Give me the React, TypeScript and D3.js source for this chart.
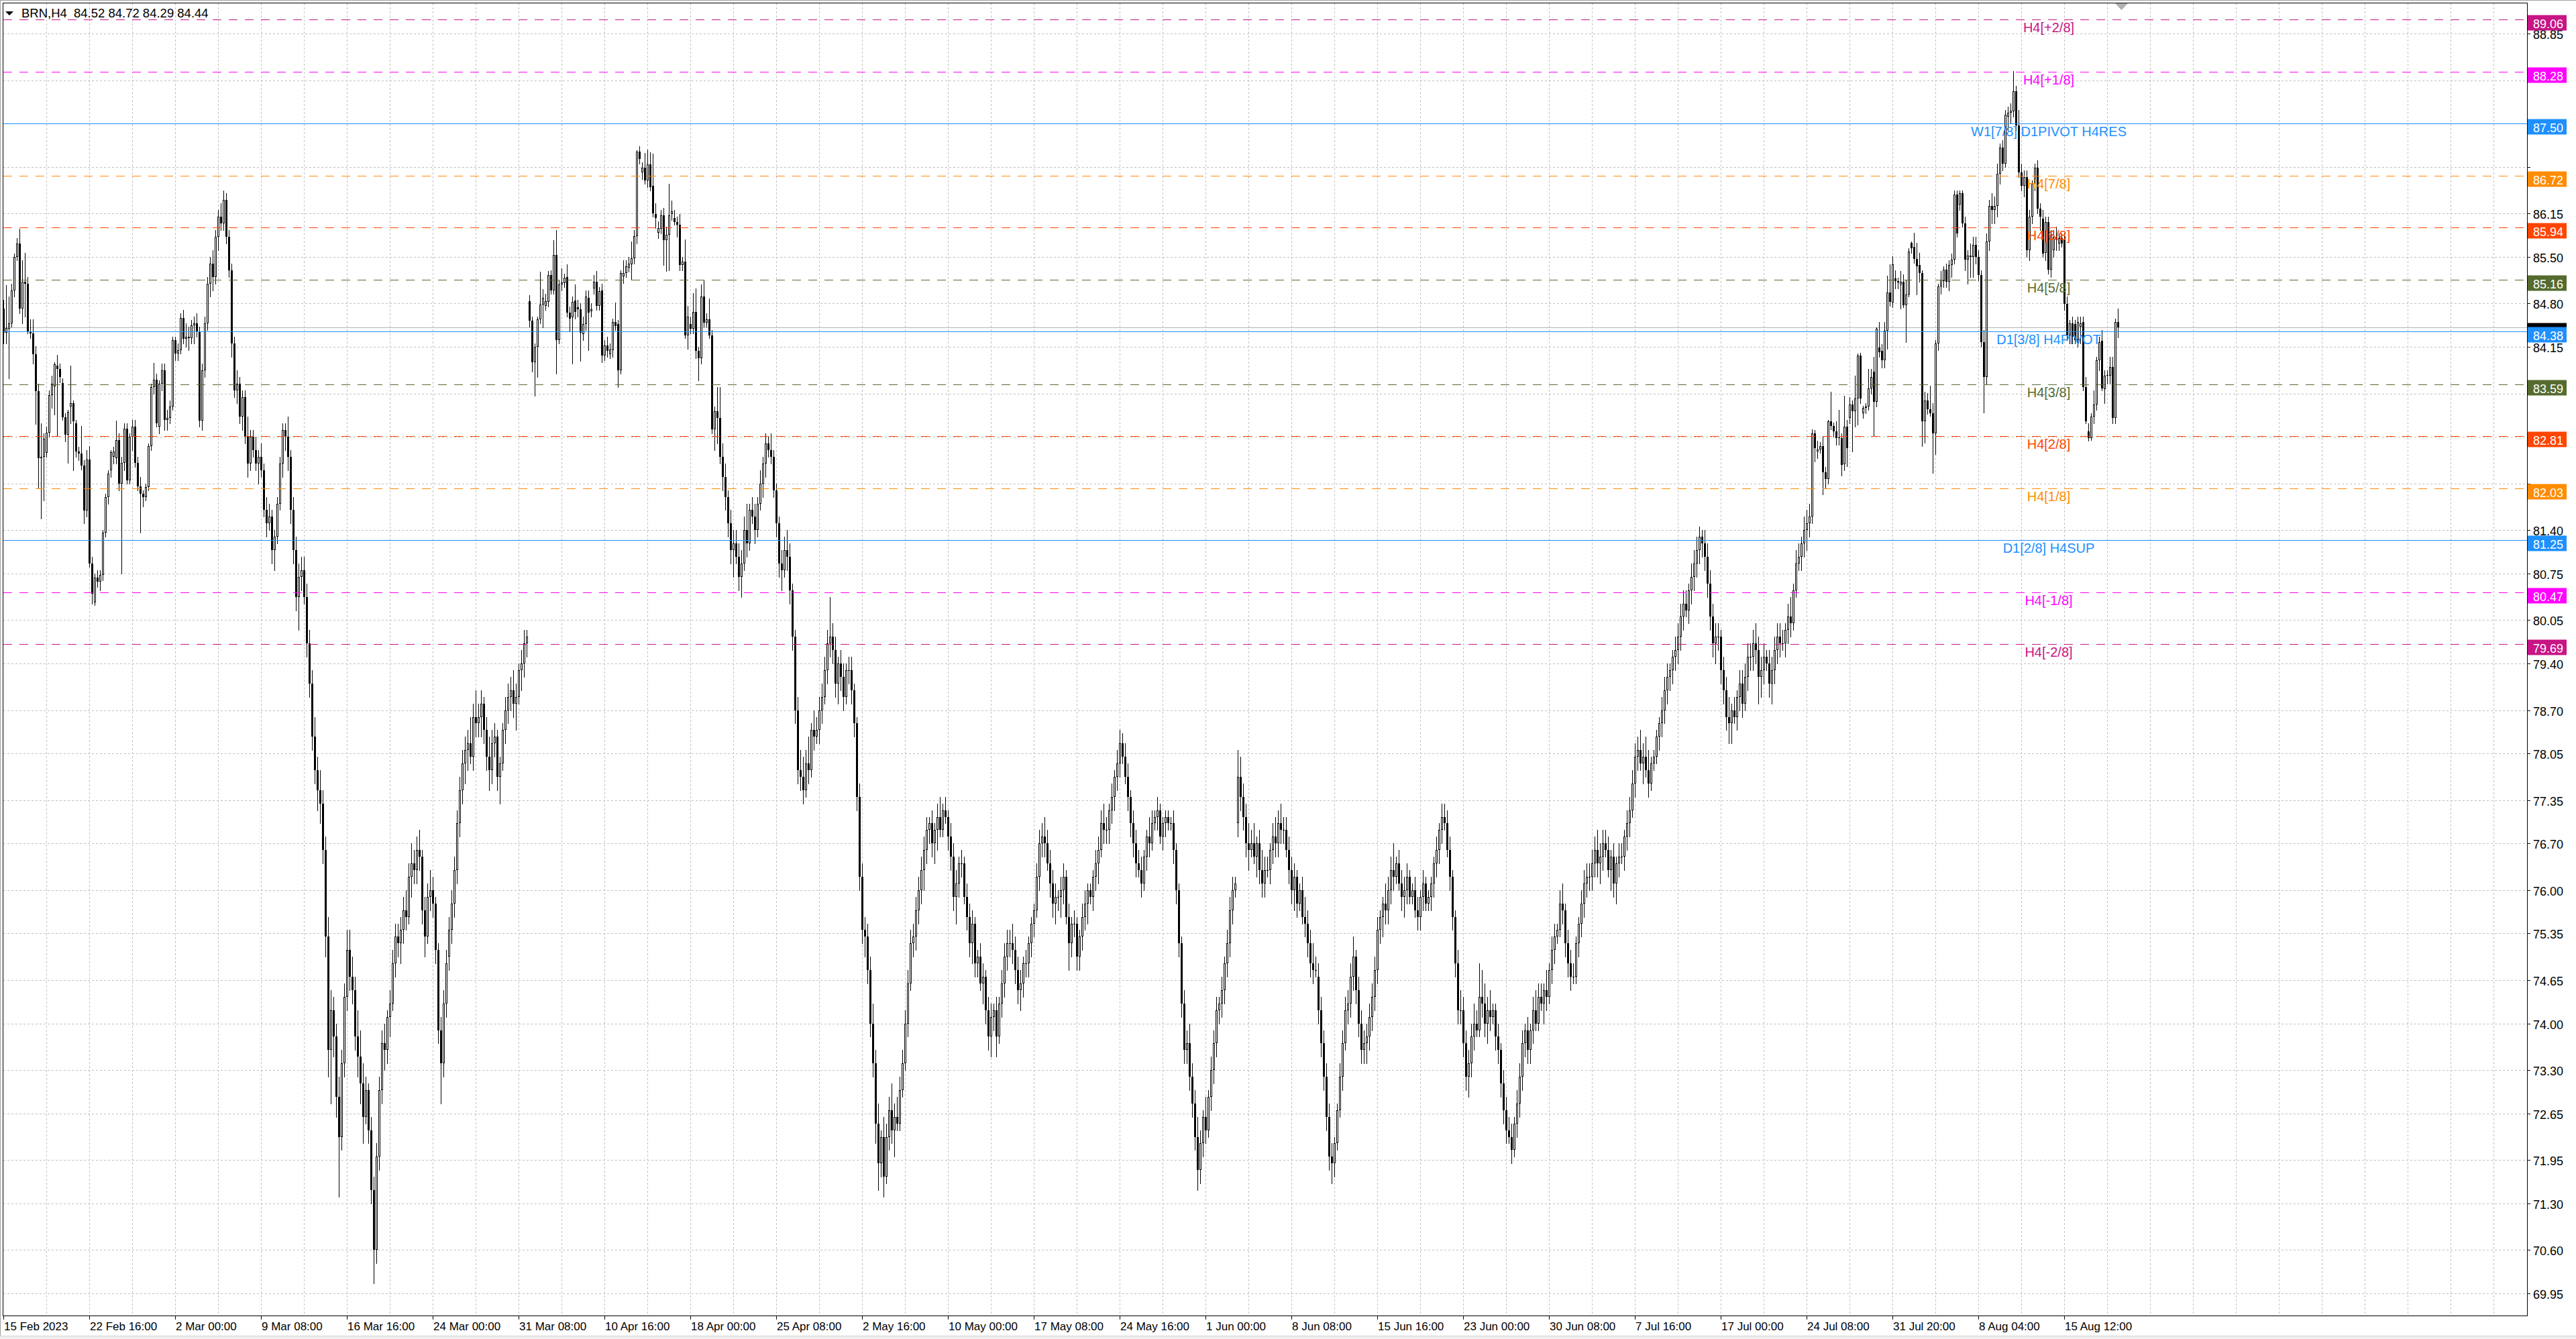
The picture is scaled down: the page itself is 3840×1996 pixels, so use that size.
import React from "react";
import * as d3 from "d3";

// ---------- DATA (BRN, H4) : [open, high, low, close] per bar ----------
const feb: number[][] = [
  [84.72, 84.85, 84.2, 84.36], [84.36, 85.08, 84.2, 84.43], [84.42, 84.91, 83.68, 84.5], [84.5, 85.1, 84.45, 85.0],
  [85.0, 85.55, 84.9, 85.5], [85.5, 85.78, 85.45, 85.7], [85.7, 85.92, 84.65, 84.72], [84.72, 85.45, 84.5, 85.13], [85.13, 85.56, 84.6, 85.1], [85.1, 85.2, 84.35, 84.38],
  [84.38, 84.56, 84.28, 84.35], [84.35, 84.56, 83.9, 84.04], [84.04, 84.16, 82.99, 83.49], [83.49, 83.6, 82.04, 82.48], [82.48, 83.0, 81.57, 82.5], [82.5, 82.85, 81.85, 82.77],
  [82.56, 82.95, 82.5, 82.86], [82.86, 83.5, 82.8, 83.43], [83.43, 83.72, 83.23, 83.6], [83.56, 83.92, 83.13, 83.89], [83.87, 84.03, 82.82, 83.82], [83.82, 83.9, 83.62, 83.7],
  [83.61, 83.68, 83.05, 83.09], [83.09, 83.15, 82.73, 82.83], [82.83, 83.2, 82.41, 83.17], [83.25, 83.87, 83.0, 83.3], [83.3, 83.35, 82.3, 83.03], [83.0, 83.05, 82.5, 82.58],
  [82.58, 82.65, 82.45, 82.55], [82.55, 82.96, 82.31, 82.37], [82.37, 82.45, 81.5, 81.69], [81.69, 82.6, 81.6, 82.46], [82.46, 82.66, 80.85, 80.9], [80.9, 81.0, 80.3, 80.45],
  [80.32, 80.75, 80.28, 80.69], [80.69, 80.8, 80.55, 80.63], [80.63, 80.8, 80.5, 80.73], [80.73, 81.4, 80.65, 81.36], [81.36, 81.95, 81.3, 81.9], [81.9, 82.3, 81.8, 82.25],
  [82.3, 82.6, 82.2, 82.57], [82.5, 82.65, 82.4, 82.58], [82.48, 83.04, 82.4, 82.75], [82.75, 82.85, 82.0, 82.1], [82.1, 82.5, 80.75, 82.41], [82.41, 83.0, 82.3, 82.92],
  [82.92, 83.0, 82.1, 82.15], [82.15, 82.85, 82.1, 82.8], [82.8, 83.05, 82.6, 82.95], [82.95, 83.05, 82.35, 82.41], [82.41, 82.5, 82.0, 82.06], [82.06, 82.2, 81.36, 81.95],
  [81.95, 82.0, 81.75, 81.9], [81.9, 82.1, 81.85, 82.05], [82.05, 82.7, 82.0, 82.66], [82.66, 83.6, 82.6, 83.55], [83.55, 83.91, 83.45, 83.66], [83.66, 83.75, 82.95, 83.0],
];

const mar: number[][] = [
  [82.95, 83.65, 82.85, 83.6], [83.6, 83.9, 83.5, 83.8], [83.8, 83.9, 82.9, 83.05], [83.05, 83.2, 82.9, 83.08], [83.08, 83.35, 83.0, 83.25], [83.25, 84.3, 83.2, 84.25],
  [84.25, 84.3, 83.95, 84.05], [84.05, 84.2, 83.95, 84.1], [84.1, 84.65, 84.05, 84.58], [84.58, 84.7, 84.2, 84.27], [84.27, 84.5, 84.15, 84.3], [84.3, 84.45, 84.1, 84.28],
  [84.28, 84.55, 84.2, 84.47], [84.47, 84.6, 84.2, 84.5], [84.5, 84.65, 84.3, 84.38], [84.38, 84.45, 82.95, 83.04], [83.04, 83.9, 82.9, 83.8], [83.8, 84.6, 83.7, 84.5],
  [84.5, 85.2, 84.4, 85.1], [85.1, 85.5, 84.9, 85.4], [85.4, 85.6, 85.0, 85.2], [85.2, 85.9, 85.1, 85.8], [85.8, 86.2, 85.6, 86.1], [86.1, 86.3, 85.9, 86.0],
  [86.0, 86.5, 85.9, 86.35], [86.35, 86.45, 85.7, 85.8], [85.8, 85.9, 85.2, 85.3], [85.3, 85.4, 84.0, 84.2], [84.2, 84.3, 83.4, 83.5], [83.5, 83.8, 83.3, 83.6],
  [83.6, 83.7, 83.0, 83.1], [83.1, 83.5, 82.9, 83.4], [83.4, 83.5, 82.7, 82.8], [82.8, 83.1, 82.2, 82.4], [82.4, 82.9, 82.3, 82.8], [82.8, 82.9, 82.5, 82.6],
  [82.6, 82.8, 82.3, 82.4], [82.4, 82.6, 82.1, 82.5], [82.5, 82.7, 82.2, 82.3], [82.3, 82.4, 81.6, 81.7], [81.7, 81.9, 81.3, 81.5], [81.5, 81.8, 81.4, 81.6],
  [81.6, 81.7, 80.9, 81.1], [81.1, 81.4, 80.8, 81.3], [81.3, 81.9, 81.2, 81.8], [81.8, 82.5, 81.7, 82.4], [82.4, 83.0, 82.2, 82.9], [82.9, 83.0, 82.6, 82.8],
  [82.8, 83.1, 82.3, 82.5], [82.5, 82.6, 81.5, 81.7], [81.7, 81.9, 80.9, 81.1], [81.1, 81.3, 80.2, 80.4], [80.4, 80.9, 79.9, 80.7], [80.7, 81.0, 80.5, 80.8],
  [80.8, 81.0, 80.3, 80.4], [80.4, 80.6, 79.5, 79.7], [79.7, 79.9, 78.9, 79.1], [79.1, 79.3, 78.1, 78.3], [78.3, 78.6, 77.6, 77.8], [77.8, 78.0, 77.2, 77.5],
  [77.5, 77.8, 77.0, 77.3], [77.3, 77.5, 76.4, 76.6], [76.6, 76.8, 75.0, 75.3], [75.3, 75.6, 73.2, 73.6], [73.6, 74.5, 72.8, 74.2], [74.2, 74.4, 73.5, 73.8],
  [73.8, 74.0, 72.6, 72.9], [72.9, 73.2, 71.4, 72.3], [72.3, 73.6, 72.1, 73.4], [73.4, 74.6, 73.2, 74.4], [74.4, 75.4, 74.2, 75.1], [75.1, 75.4, 74.5, 74.7],
  [74.7, 75.0, 74.3, 74.5], [74.5, 74.7, 73.6, 73.8], [73.8, 74.2, 73.2, 73.5], [73.5, 73.9, 72.8, 73.1], [73.1, 73.4, 72.2, 72.6], [72.6, 73.2, 72.5, 73.0],
  [73.0, 73.1, 72.2, 72.4], [72.4, 72.6, 71.3, 71.5], [71.5, 71.7, 70.1, 70.6], [70.6, 72.2, 70.4, 72.0], [72.0, 73.2, 71.8, 73.0], [73.0, 73.9, 72.8, 73.7],
  [73.7, 74.0, 73.3, 73.6], [73.6, 74.2, 73.4, 74.1], [74.1, 74.5, 73.8, 74.3], [74.3, 75.1, 74.2, 74.9], [74.9, 75.5, 74.7, 75.3], [75.3, 75.5, 75.0, 75.2],
  [75.2, 75.6, 74.9, 75.4], [75.4, 75.9, 75.2, 75.7], [75.7, 76.0, 75.4, 75.6], [75.6, 76.4, 75.5, 76.2], [76.2, 76.7, 75.9, 76.4], [76.4, 76.6, 76.1, 76.3],
  [76.3, 76.8, 76.1, 76.6], [76.6, 76.9, 76.3, 76.5], [76.5, 76.6, 75.5, 75.7], [75.7, 75.9, 75.0, 75.3], [75.3, 76.1, 75.2, 75.9], [75.9, 76.3, 75.7, 76.0],
  [76.0, 76.2, 75.6, 75.8], [75.8, 75.9, 74.9, 75.1], [75.1, 75.2, 73.7, 73.9], [73.9, 74.1, 72.8, 73.4], [73.4, 74.5, 73.2, 74.3], [74.3, 75.1, 74.1, 74.9],
  [75.0, 75.6, 74.8, 75.4], [75.4, 76.0, 75.2, 75.8], [75.8, 76.5, 75.6, 76.3], [76.3, 77.2, 76.1, 77.0], [77.0, 77.7, 76.8, 77.5], [77.5, 78.1, 77.3, 77.9],
  [77.9, 78.3, 77.6, 78.1], [78.1, 78.4, 77.8, 78.2], [78.2, 78.6, 77.9, 78.0], [78.0, 78.8, 77.8, 78.6], [78.6, 79.0, 78.3, 78.5], [78.5, 78.8, 78.3, 78.6],
  [78.6, 79.0, 78.3, 78.8], [78.8, 78.9, 78.2, 78.4], [78.4, 78.6, 77.8, 78.0], [78.0, 78.3, 77.5, 77.8], [77.8, 78.4, 77.6, 78.2], [78.2, 78.5, 78.0, 78.3],
  [78.3, 78.4, 77.5, 77.7], [77.7, 78.0, 77.3, 77.9], [77.9, 78.5, 77.8, 78.4], [78.4, 78.9, 78.2, 78.7], [78.7, 79.1, 78.5, 78.9], [78.9, 79.2, 78.7, 79.0],
  [79.0, 79.3, 78.6, 78.8], [78.8, 79.1, 78.4, 78.9], [78.9, 79.4, 78.8, 79.3], [79.3, 79.6, 79.0, 79.4], [79.4, 79.9, 79.2, 79.7], [79.7, 79.9, 79.5, 79.8],
];

const apr: number[][] = [
  [84.83, 84.93, 84.45, 84.54], [84.54, 84.6, 83.78, 83.92], [83.92, 84.2, 83.42, 84.15], [84.15, 84.6, 83.7, 84.56], [84.56, 85.28, 84.5, 84.78], [84.78, 85.02, 84.44, 84.88],
  [84.76, 84.95, 84.7, 84.83], [84.82, 85.29, 84.75, 85.23], [85.23, 85.3, 84.95, 85.0], [85.0, 85.75, 84.95, 85.53], [85.53, 85.9, 83.75, 84.25], [84.25, 85.15, 84.2, 85.09],
  [85.09, 85.33, 85.0, 85.12], [85.11, 85.25, 85.05, 85.19], [85.2, 85.39, 84.6, 84.66], [84.66, 84.75, 84.39, 84.57], [84.59, 84.9, 83.9, 84.82], [84.84, 85.09, 84.57, 84.67],
  [84.74, 84.85, 84.6, 84.71], [84.71, 84.8, 83.94, 84.36], [84.34, 84.6, 84.25, 84.49], [84.49, 85.0, 84.4, 84.9], [84.88, 85.0, 84.1, 84.66], [84.68, 84.8, 84.6, 84.71],
  [85.03, 85.23, 84.95, 85.13], [85.13, 85.29, 84.7, 84.76], [84.76, 85.05, 84.7, 84.99], [85.0, 85.1, 83.92, 84.02], [84.02, 84.25, 83.95, 84.17], [84.17, 84.3, 84.0, 84.09],
  [84.04, 84.2, 83.98, 84.11], [84.1, 84.57, 84.0, 84.52], [84.52, 84.81, 84.4, 84.46], [84.49, 84.55, 83.55, 83.8], [83.8, 85.3, 83.75, 85.26], [85.21, 85.45, 85.11, 85.26],
  [85.26, 85.45, 85.2, 85.36], [85.34, 85.5, 85.28, 85.4], [85.39, 85.73, 85.16, 85.48], [85.48, 85.9, 85.4, 85.81], [85.81, 87.1, 85.7, 87.08], [87.08, 87.16, 86.9, 86.97],
  [86.77, 86.92, 86.67, 86.84], [86.84, 87.06, 86.6, 86.65], [86.65, 87.11, 86.55, 86.89], [86.89, 87.07, 86.5, 86.55], [86.57, 87.05, 86.1, 86.15], [86.14, 86.3, 85.93, 86.08],
  [85.86, 86.03, 85.78, 85.93], [85.92, 86.2, 85.85, 86.12], [86.12, 86.23, 85.38, 85.75], [85.75, 85.95, 85.29, 85.83], [85.83, 86.6, 85.3, 86.12], [86.14, 86.34, 86.05, 86.18],
  [86.08, 86.2, 85.98, 86.02], [86.02, 86.1, 85.8, 85.98], [85.98, 86.14, 85.3, 85.38], [85.38, 85.5, 85.3, 85.43], [85.43, 85.76, 84.28, 84.32], [84.32, 84.76, 84.12, 84.6],
  [84.49, 84.6, 84.35, 84.42], [84.42, 84.96, 84.35, 84.67], [84.67, 85.03, 83.98, 84.09], [84.09, 84.15, 83.65, 83.98], [83.98, 85.09, 83.9, 84.9], [84.9, 85.16, 84.45, 84.51],
  [84.51, 84.65, 84.45, 84.56], [84.56, 84.87, 84.28, 84.32], [84.32, 84.4, 82.85, 82.91], [82.91, 83.25, 82.6, 83.18], [83.18, 83.55, 82.7, 83.08], [83.08, 83.55, 82.4, 82.5],
  [82.5, 82.7, 82.0, 82.2], [82.2, 82.4, 81.7, 81.9], [81.9, 82.0, 81.3, 81.5], [81.5, 81.7, 80.9, 81.1], [81.1, 81.4, 80.7, 81.2], [81.2, 81.4, 80.9, 81.0],
  [81.0, 81.2, 80.5, 80.7], [80.7, 81.1, 80.4, 80.9], [80.9, 81.6, 80.8, 81.4], [81.4, 81.8, 81.0, 81.2], [81.2, 81.8, 81.1, 81.7], [81.7, 81.9, 81.5, 81.6],
  [81.6, 81.8, 81.2, 81.4], [81.4, 81.9, 81.3, 81.8], [81.8, 82.3, 81.7, 82.1], [82.1, 82.5, 81.9, 82.4], [82.4, 82.85, 82.2, 82.7], [82.7, 82.8, 82.5, 82.6],
  [82.6, 82.85, 82.4, 82.5], [82.5, 82.6, 81.9, 82.0], [82.0, 82.1, 81.3, 81.5], [81.5, 81.6, 80.7, 80.9], [80.9, 81.1, 80.5, 80.8], [80.8, 81.3, 80.7, 81.1],
  [81.1, 81.4, 80.8, 81.0], [81.0, 81.2, 80.3, 80.5], [80.5, 80.6, 79.6, 79.8], [79.8, 79.9, 78.5, 78.7], [78.7, 78.9, 77.6, 77.8], [77.8, 78.1, 77.5, 77.7],
  [77.7, 78.0, 77.3, 77.5], [77.5, 78.1, 77.4, 77.9], [77.9, 78.3, 77.6, 77.8], [77.8, 78.5, 77.7, 78.4], [78.4, 78.7, 78.1, 78.3], [78.3, 78.6, 78.2, 78.4],
  [78.4, 78.9, 78.2, 78.7], [78.7, 79.1, 78.5, 78.9], [78.9, 79.5, 78.8, 79.3], [79.3, 79.9, 79.1, 79.7], [79.7, 80.4, 79.5, 79.8], [79.8, 80.0, 79.4, 79.6],
];

const may: number[][] = [
  [79.6, 79.8, 78.9, 79.1], [79.1, 79.5, 78.8, 79.4], [79.4, 79.6, 79.0, 79.2], [79.2, 79.4, 78.7, 78.9], [78.9, 79.4, 78.8, 79.3], [79.3, 79.5, 79.1, 79.3],
  [79.3, 79.5, 78.8, 79.0], [79.0, 79.1, 78.3, 78.5], [78.5, 78.6, 77.2, 77.4], [77.4, 77.6, 76.0, 76.2], [76.2, 76.4, 75.2, 75.4], [75.4, 75.6, 75.0, 75.3],
  [75.3, 75.5, 74.6, 74.8], [74.8, 75.0, 73.8, 74.0], [74.0, 74.3, 73.2, 73.4], [73.4, 73.6, 72.2, 72.5], [72.5, 72.8, 71.5, 71.9], [71.9, 72.4, 71.7, 72.3],
  [72.3, 72.6, 71.4, 71.7], [71.7, 72.5, 71.6, 72.3], [72.3, 72.9, 72.1, 72.7], [72.7, 73.1, 72.2, 72.4], [72.4, 72.8, 72.0, 72.6], [72.6, 72.9, 72.4, 72.5],
  [72.5, 73.2, 72.4, 73.0], [73.0, 73.6, 72.9, 73.4], [73.4, 74.2, 73.3, 74.0], [74.0, 74.8, 73.8, 74.6], [74.6, 75.4, 74.5, 75.2], [75.2, 75.5, 75.0, 75.3],
  [75.3, 75.9, 75.1, 75.7], [75.7, 76.2, 75.5, 76.0], [76.0, 76.5, 75.8, 76.3], [76.3, 76.8, 76.0, 76.6], [76.6, 77.1, 76.4, 76.9], [76.9, 77.1, 76.7, 77.0],
  [77.0, 77.2, 76.5, 76.7], [76.7, 77.0, 76.4, 76.9], [76.9, 77.3, 76.6, 77.1], [77.1, 77.4, 76.8, 76.9], [76.9, 77.3, 76.8, 77.2], [77.2, 77.4, 77.0, 77.1],
  [77.1, 77.2, 76.6, 76.8], [76.8, 77.0, 76.3, 76.5], [76.5, 76.7, 75.7, 75.9], [75.9, 76.3, 75.5, 76.1], [76.1, 76.5, 75.9, 76.4], [76.4, 76.6, 76.2, 76.4],
  [76.4, 76.5, 75.8, 75.9], [75.9, 76.1, 75.4, 75.6], [75.6, 75.8, 75.0, 75.2], [75.2, 75.7, 74.9, 75.5], [75.5, 75.6, 74.7, 74.9], [74.9, 75.1, 74.7, 75.0],
  [75.0, 75.2, 74.5, 74.6], [74.6, 74.9, 74.3, 74.7], [74.7, 74.8, 74.0, 74.2], [74.2, 74.4, 73.6, 73.8], [73.8, 74.3, 73.5, 74.1], [74.1, 74.3, 73.9, 74.2],
  [74.2, 74.4, 73.5, 73.8], [73.8, 74.4, 73.7, 74.3], [74.3, 74.8, 74.1, 74.6], [74.6, 75.2, 74.4, 75.0], [75.0, 75.4, 74.8, 75.2], [75.2, 75.4, 75.0, 75.2],
  [75.2, 75.5, 74.9, 75.1], [75.1, 75.3, 74.6, 74.8], [74.8, 75.0, 74.3, 74.5], [74.5, 74.8, 74.2, 74.6], [74.6, 75.0, 74.4, 74.9], [74.9, 75.1, 74.7, 74.9],
  [74.9, 75.3, 74.7, 75.2], [75.2, 75.6, 75.0, 75.5], [75.5, 75.8, 75.3, 75.7], [75.7, 76.4, 75.6, 76.2], [76.2, 76.9, 76.0, 76.7], [76.7, 77.0, 76.5, 76.8],
  [76.8, 77.1, 76.5, 76.7], [76.7, 76.9, 76.3, 76.4], [76.4, 76.6, 75.9, 76.1], [76.1, 76.3, 75.6, 75.8], [75.8, 76.1, 75.5, 75.9], [75.9, 76.0, 75.7, 75.9],
  [75.9, 76.2, 75.6, 76.0], [76.0, 76.4, 75.8, 76.2], [76.2, 76.3, 75.5, 75.6], [75.6, 75.8, 74.8, 75.2], [75.2, 75.6, 75.0, 75.5], [75.5, 75.7, 75.3, 75.5],
  [75.5, 75.6, 74.8, 75.0], [75.0, 75.4, 74.8, 75.3], [75.3, 75.8, 75.1, 75.6], [75.6, 76.0, 75.4, 75.8], [75.8, 76.1, 75.5, 76.0], [76.0, 76.1, 75.8, 75.9],
  [75.9, 76.3, 75.7, 76.2], [76.2, 76.6, 76.0, 76.4], [76.4, 76.8, 76.1, 76.6], [76.6, 77.2, 76.5, 77.0], [77.0, 77.3, 76.7, 76.9], [76.9, 77.1, 76.7, 76.9],
  [76.9, 77.3, 76.7, 77.2], [77.2, 77.6, 77.0, 77.4], [77.4, 77.8, 77.2, 77.7], [77.7, 78.1, 77.5, 77.9], [77.9, 78.4, 77.7, 78.2], [78.2, 78.35, 77.9, 78.0],
  [78.0, 78.2, 77.6, 77.7], [77.7, 77.9, 77.2, 77.4], [77.4, 77.5, 76.8, 77.0], [77.0, 77.2, 76.5, 76.7], [76.7, 76.9, 76.2, 76.4], [76.4, 76.6, 76.2, 76.3],
  [76.3, 76.5, 75.9, 76.1], [76.1, 76.6, 76.0, 76.5], [76.5, 76.9, 76.3, 76.8], [76.8, 77.1, 76.5, 76.7], [76.7, 77.2, 76.6, 77.0], [77.0, 77.2, 76.9, 77.1],
  [77.1, 77.4, 76.9, 77.2], [77.2, 77.3, 76.7, 76.8], [76.8, 77.1, 76.6, 77.0], [77.0, 77.2, 76.8, 77.1], [77.1, 77.2, 76.9, 77.0], [77.0, 77.1, 76.9, 77.0],
  [77.0, 77.2, 76.4, 76.6], [76.6, 76.7, 75.8, 76.0], [76.0, 76.1, 75.0, 75.2], [75.2, 75.3, 74.1, 74.3], [74.3, 74.5, 73.4, 73.6], [73.6, 73.9, 73.4, 73.7],
  [73.7, 74.0, 73.0, 73.2], [73.2, 73.4, 72.6, 72.8], [72.8, 73.0, 72.1, 72.3], [72.3, 72.6, 71.5, 71.8], [71.8, 72.4, 71.6, 72.2], [72.2, 72.7, 72.0, 72.6],
];

const jun: number[][] = [
  [72.6, 72.9, 72.2, 72.4], [72.4, 73.0, 72.3, 72.9], [72.9, 73.5, 72.7, 73.3], [73.3, 73.9, 73.1, 73.7], [73.7, 74.4, 73.5, 74.2], [74.2, 74.4, 74.0, 74.3],
  [74.3, 74.7, 74.1, 74.5], [74.5, 75.0, 74.3, 74.9], [74.9, 75.4, 74.7, 75.2], [75.2, 75.9, 75.0, 75.7], [75.7, 76.2, 75.5, 76.0], [76.0, 76.2, 75.9, 76.1],
  [77.0, 78.1, 76.8, 77.7], [77.7, 78.0, 77.2, 77.4], [77.4, 77.6, 76.9, 77.1], [77.1, 77.3, 76.5, 76.7], [76.7, 77.0, 76.3, 76.6], [76.6, 76.9, 76.5, 76.7],
  [76.7, 77.0, 76.4, 76.5], [76.5, 76.8, 76.2, 76.7], [76.7, 76.9, 76.1, 76.3], [76.3, 76.6, 75.9, 76.1], [76.1, 76.5, 75.9, 76.3], [76.3, 76.5, 76.2, 76.3],
  [76.3, 76.7, 76.1, 76.6], [76.6, 77.0, 76.4, 76.8], [76.8, 77.1, 76.5, 76.7], [76.7, 77.2, 76.5, 77.0], [77.0, 77.3, 76.7, 76.9], [76.9, 77.1, 76.7, 76.9],
  [76.9, 77.1, 76.5, 76.6], [76.6, 76.8, 76.1, 76.3], [76.3, 76.5, 75.8, 76.0], [76.0, 76.4, 75.7, 76.2], [76.2, 76.3, 75.6, 75.8], [75.8, 76.1, 75.7, 76.0],
  [76.0, 76.2, 75.5, 75.6], [75.6, 75.9, 75.3, 75.5], [75.5, 75.7, 75.0, 75.2], [75.2, 75.4, 74.7, 74.9], [74.9, 75.2, 74.6, 74.8], [74.8, 75.0, 74.7, 74.8],
  [74.7, 74.9, 74.0, 74.2], [74.2, 74.4, 73.5, 73.7], [73.7, 73.9, 73.0, 73.2], [73.2, 73.4, 72.4, 72.6], [72.6, 72.8, 71.8, 72.0], [72.0, 72.2, 71.6, 71.9],
  [71.9, 72.3, 71.7, 72.2], [72.2, 72.8, 72.1, 72.7], [72.7, 73.4, 72.6, 73.2], [73.2, 73.9, 73.0, 73.7], [73.7, 74.4, 73.6, 74.2], [74.2, 74.5, 74.0, 74.3],
  [74.3, 74.9, 74.1, 74.7], [74.7, 75.3, 74.5, 75.0], [75.0, 75.1, 74.3, 74.5], [74.5, 74.7, 73.8, 74.0], [74.0, 74.2, 73.4, 73.6], [73.6, 73.9, 73.4, 73.7],
  [73.7, 74.0, 73.4, 73.8], [73.8, 74.3, 73.6, 74.1], [74.1, 74.6, 73.9, 74.4], [74.4, 75.0, 74.2, 74.8], [74.8, 75.6, 74.6, 75.4], [75.4, 75.7, 75.2, 75.6],
  [75.6, 75.9, 75.3, 75.8], [75.8, 76.1, 75.5, 75.7], [75.7, 76.2, 75.5, 76.0], [76.0, 76.5, 75.8, 76.3], [76.3, 76.7, 76.0, 76.2], [76.2, 76.5, 76.1, 76.4],
  [76.4, 76.6, 76.0, 76.1], [76.1, 76.3, 75.7, 75.9], [75.9, 76.2, 75.6, 76.0], [76.0, 76.4, 75.8, 76.2], [76.2, 76.3, 75.8, 75.9], [75.9, 76.1, 75.8, 76.0],
  [76.0, 76.2, 75.6, 75.7], [75.7, 75.9, 75.4, 75.6], [75.6, 76.0, 75.4, 75.9], [75.9, 76.3, 75.7, 76.1], [76.1, 76.2, 75.7, 75.8], [75.8, 76.0, 75.7, 75.9],
  [75.9, 76.2, 75.7, 76.1], [76.1, 76.5, 75.9, 76.4], [76.4, 76.8, 76.2, 76.6], [76.6, 77.0, 76.4, 76.9], [76.9, 77.3, 76.7, 77.1], [77.1, 77.3, 76.9, 77.0],
  [77.0, 77.2, 76.5, 76.6], [76.6, 76.8, 76.0, 76.2], [76.2, 76.3, 75.4, 75.6], [75.6, 75.7, 74.7, 74.9], [74.9, 75.1, 74.0, 74.2], [74.2, 74.5, 74.0, 74.2],
  [74.2, 74.4, 73.5, 73.7], [73.7, 73.9, 73.0, 73.2], [73.2, 73.6, 72.9, 73.4], [73.4, 74.0, 73.2, 73.8], [73.8, 74.3, 73.6, 74.0], [74.0, 74.2, 73.8, 73.9],
  [73.9, 74.9, 73.8, 74.4], [74.4, 74.8, 74.1, 74.3], [74.3, 74.6, 73.8, 74.0], [74.0, 74.4, 73.7, 74.2], [74.2, 74.5, 73.9, 74.1], [74.1, 74.3, 74.0, 74.2],
  [74.2, 74.3, 73.6, 73.8], [73.8, 74.0, 73.4, 73.6], [73.6, 73.7, 72.9, 73.1], [73.1, 73.3, 72.5, 72.7], [72.7, 72.9, 72.2, 72.4], [72.4, 72.6, 72.2, 72.3],
  [72.3, 72.5, 71.9, 72.1], [72.1, 72.6, 72.0, 72.5], [72.5, 73.0, 72.3, 72.8], [72.8, 73.4, 72.6, 73.2], [73.2, 73.9, 73.0, 73.7], [73.7, 74.0, 73.5, 73.9],
  [73.9, 74.1, 73.4, 73.6], [73.6, 74.0, 73.4, 73.9], [73.9, 74.4, 73.7, 74.2], [74.2, 74.5, 73.9, 74.0], [74.0, 74.6, 73.9, 74.4], [74.4, 74.6, 74.2, 74.3],
  [74.3, 74.6, 74.0, 74.5], [74.5, 74.8, 74.2, 74.4], [74.4, 74.9, 74.3, 74.8], [74.8, 75.3, 74.6, 75.1], [75.1, 75.5, 74.9, 75.3], [75.3, 75.5, 75.2, 75.4],
];

const jul: number[][] = [
  [75.4, 76.0, 75.3, 75.8], [75.8, 76.1, 75.5, 75.7], [75.7, 75.8, 75.0, 75.2], [75.2, 75.4, 74.7, 74.9], [74.9, 75.1, 74.5, 74.7], [74.7, 74.9, 74.6, 74.7],
  [74.7, 75.3, 74.6, 75.2], [75.2, 75.6, 75.0, 75.5], [75.5, 76.0, 75.3, 75.8], [75.8, 76.3, 75.6, 76.1], [76.1, 76.4, 75.9, 76.2], [76.2, 76.4, 76.0, 76.2],
  [76.2, 76.6, 76.0, 76.4], [76.4, 76.8, 76.2, 76.6], [76.6, 76.9, 76.2, 76.4], [76.4, 76.7, 76.1, 76.5], [76.5, 76.9, 76.3, 76.7], [76.7, 76.9, 76.5, 76.6],
  [76.6, 76.8, 76.2, 76.3], [76.3, 76.6, 76.0, 76.5], [76.5, 76.7, 75.9, 76.1], [76.1, 76.5, 75.8, 76.4], [76.4, 76.7, 76.2, 76.5], [76.5, 76.7, 76.4, 76.5],
  [76.5, 76.9, 76.3, 76.8], [76.8, 77.2, 76.6, 77.0], [77.0, 77.4, 76.8, 77.2], [77.2, 77.8, 77.1, 77.6], [77.6, 78.2, 77.4, 78.0], [78.0, 78.3, 77.8, 78.1],
  [78.1, 78.4, 77.8, 77.9], [77.9, 78.2, 77.6, 78.0], [78.0, 78.3, 77.7, 77.8], [77.8, 78.1, 77.4, 77.6], [77.6, 78.0, 77.5, 77.9], [77.9, 78.1, 77.8, 78.0],
  [78.0, 78.4, 77.9, 78.3], [78.3, 78.6, 78.1, 78.5], [78.5, 78.9, 78.3, 78.7], [78.7, 79.2, 78.5, 79.0], [79.0, 79.4, 78.8, 79.2], [79.2, 79.4, 79.0, 79.3],
  [79.3, 79.6, 79.1, 79.5], [79.5, 79.8, 79.3, 79.6], [79.6, 80.0, 79.4, 79.8], [79.8, 80.3, 79.6, 80.1], [80.1, 80.5, 79.9, 80.3], [80.3, 80.5, 80.1, 80.2],
  [80.2, 80.6, 80.0, 80.5], [80.5, 80.9, 80.3, 80.7], [80.7, 81.1, 80.5, 80.9], [80.9, 81.3, 80.7, 81.1], [81.1, 81.45, 80.9, 81.3], [81.3, 81.4, 81.0, 81.2],
  [81.2, 81.4, 80.8, 81.0], [81.0, 81.2, 80.4, 80.6], [80.6, 80.8, 79.9, 80.1], [80.1, 80.3, 79.5, 79.7], [79.7, 80.0, 79.4, 79.8], [79.8, 80.0, 79.6, 79.8],
  [79.8, 79.9, 79.1, 79.3], [79.3, 79.5, 78.8, 79.0], [79.0, 79.2, 78.4, 78.6], [78.6, 78.9, 78.2, 78.5], [78.5, 78.8, 78.2, 78.7], [78.7, 78.9, 78.5, 78.6],
  [78.6, 79.0, 78.4, 78.9], [78.9, 79.3, 78.7, 79.1], [79.1, 79.3, 78.6, 78.8], [78.8, 79.4, 78.7, 79.2], [79.2, 79.7, 79.0, 79.5], [79.5, 79.7, 79.3, 79.5],
  [79.5, 79.9, 79.3, 79.7], [79.7, 80.0, 79.4, 79.6], [79.6, 79.8, 78.8, 79.2], [79.2, 79.5, 78.9, 79.3], [79.3, 79.7, 79.1, 79.5], [79.5, 79.6, 79.3, 79.4],
  [79.4, 79.6, 78.9, 79.1], [79.1, 79.5, 78.8, 79.3], [79.3, 79.8, 79.1, 79.6], [79.6, 80.0, 79.4, 79.8], [79.8, 80.0, 79.5, 79.7], [79.7, 79.9, 79.6, 79.7],
  [79.7, 80.0, 79.5, 79.9], [79.9, 80.3, 79.7, 80.1], [80.1, 80.4, 79.8, 80.0], [80.0, 80.6, 79.9, 80.5], [80.5, 81.1, 80.4, 80.9], [80.9, 81.2, 80.8, 81.0],
  [81.0, 81.3, 80.8, 81.2], [81.2, 81.6, 81.0, 81.4], [81.4, 81.7, 81.1, 81.5], [81.5, 81.8, 81.3, 81.6], [81.6, 82.91, 81.5, 82.85], [82.85, 82.9, 82.43, 82.63],
  [82.58, 82.74, 82.48, 82.61], [82.61, 82.72, 82.56, 82.66], [82.66, 82.81, 81.94, 82.27], [82.27, 82.35, 82.04, 82.17], [82.17, 83.05, 82.1, 83.03], [83.03, 83.48, 82.91, 82.96],
  [82.96, 83.01, 82.8, 82.88], [82.88, 83.03, 82.68, 82.78], [82.78, 83.2, 82.68, 82.79], [82.78, 82.85, 82.22, 82.38], [82.39, 83.42, 82.3, 82.95], [82.95, 83.05, 82.36, 82.63],
  [83.08, 83.4, 83.0, 83.28], [83.28, 83.35, 82.58, 83.18], [83.18, 83.72, 82.95, 83.38], [83.38, 84.05, 82.98, 84.02], [84.02, 84.06, 83.3, 83.38], [83.15, 83.26, 83.08, 83.23],
  [83.23, 83.3, 83.15, 83.25], [83.25, 83.82, 83.2, 83.53], [83.53, 83.82, 83.45, 83.7], [83.78, 84.0, 82.81, 83.32], [83.32, 84.44, 83.25, 84.42], [84.14, 84.52, 84.0, 84.07],
  [84.09, 84.19, 83.84, 83.95], [83.95, 84.52, 83.84, 84.39], [84.39, 85.22, 84.12, 84.97], [84.97, 85.39, 84.76, 84.82], [84.81, 85.51, 84.74, 85.39],
];

const aug: number[][] = [
  [85.18, 85.3, 85.03, 85.14], [85.14, 85.19, 85.03, 85.12], [85.09, 85.29, 84.72, 85.13], [85.13, 85.24, 84.74, 84.77], [84.77, 85.16, 84.22, 84.94], [84.94, 85.63, 84.9, 85.58],
  [85.71, 85.73, 85.56, 85.63], [85.65, 85.86, 85.41, 85.47], [85.47, 85.71, 84.94, 85.36], [85.38, 85.56, 85.13, 85.26], [85.26, 85.3, 82.66, 83.03], [83.03, 83.48, 82.71, 83.35],
  [83.35, 83.46, 83.14, 83.21], [83.21, 83.57, 83.11, 83.15], [83.15, 83.3, 82.26, 82.85], [82.85, 84.25, 82.54, 84.2], [84.2, 85.1, 84.1, 85.06], [85.06, 85.29, 84.95, 85.16],
  [85.14, 85.36, 85.05, 85.31], [85.31, 85.4, 85.05, 85.13], [85.13, 85.45, 85.0, 85.38], [85.38, 85.55, 85.2, 85.46], [85.46, 86.5, 85.4, 86.43], [86.43, 86.5, 85.8, 85.85],
  [86.28, 86.5, 86.2, 86.45], [86.45, 86.5, 85.95, 86.0], [86.0, 86.1, 85.3, 85.46], [85.46, 85.6, 85.1, 85.52], [85.52, 85.7, 85.2, 85.5], [85.5, 85.8, 85.2, 85.68],
  [85.68, 85.8, 85.4, 85.5], [85.5, 85.6, 85.15, 85.23], [85.23, 85.3, 84.15, 84.22], [84.22, 84.4, 83.16, 83.7], [83.7, 85.85, 83.6, 85.73], [85.73, 86.35, 85.6, 86.26],
  [86.26, 86.45, 86.0, 86.2], [86.2, 86.4, 86.0, 86.26], [86.26, 86.9, 86.1, 86.75], [86.75, 87.2, 86.6, 87.14], [87.14, 87.25, 86.8, 86.9], [86.9, 87.7, 86.85, 87.63],
  [87.6, 87.75, 87.4, 87.66], [87.66, 87.8, 87.5, 87.69], [87.68, 88.29, 87.6, 87.98], [87.98, 88.07, 87.4, 87.47], [87.47, 87.7, 86.7, 86.77], [86.77, 86.9, 86.5, 86.57],
  [86.57, 86.8, 86.4, 86.7], [86.7, 86.8, 85.5, 85.6], [85.6, 86.2, 85.45, 86.1], [86.1, 86.65, 86.0, 86.6], [86.6, 86.9, 86.5, 86.84], [86.84, 86.95, 86.15, 86.22],
  [86.22, 86.3, 85.9, 86.1], [86.07, 86.2, 85.5, 85.55], [85.56, 86.1, 85.45, 86.02], [86.02, 86.1, 85.25, 85.31], [85.31, 85.9, 85.2, 85.83], [85.6, 85.9, 85.5, 85.8],
  [85.8, 85.95, 85.6, 85.75], [85.7, 85.85, 85.6, 85.78], [85.78, 85.85, 85.65, 85.7], [85.76, 85.85, 84.7, 84.79], [84.79, 84.9, 84.25, 84.32], [84.32, 84.55, 84.2, 84.5],
  [84.5, 84.6, 84.2, 84.3], [84.49, 84.55, 84.2, 84.25], [84.25, 84.6, 84.15, 84.52], [84.45, 84.6, 84.2, 84.5], [84.52, 84.6, 83.5, 83.55], [83.55, 83.7, 83.0, 83.03],
  [82.88, 83.0, 82.74, 82.78], [82.78, 83.15, 82.75, 83.1], [83.1, 83.5, 83.0, 83.28], [83.28, 84.0, 83.2, 83.95], [83.95, 84.3, 83.8, 84.22], [84.24, 84.4, 83.5, 83.53],
  [83.52, 83.8, 83.3, 83.72], [83.72, 83.8, 83.6, 83.73], [83.72, 84.0, 83.6, 83.85], [83.85, 84.0, 83.0, 83.08], [83.08, 84.57, 83.0, 84.52], [84.52, 84.72, 84.29, 84.44],
];

const priceTicks = [88.85, 88.15, 87.5, 86.85, 86.15, 85.5, 84.8, 84.15, 83.45, 82.8, 82.1, 81.4, 80.75, 80.05, 79.4, 78.7, 78.05, 77.35, 76.7, 76.0, 75.35, 74.65, 74.0, 73.3, 72.65, 71.95, 71.3, 70.6, 69.95];

const timeLabels = ["15 Feb 2023", "22 Feb 16:00", "2 Mar 00:00", "9 Mar 08:00", "16 Mar 16:00", "24 Mar 00:00", "31 Mar 08:00", "10 Apr 16:00", "18 Apr 00:00", "25 Apr 08:00", "2 May 16:00", "10 May 00:00", "17 May 08:00", "24 May 16:00", "1 Jun 00:00", "8 Jun 08:00", "15 Jun 16:00", "23 Jun 00:00", "30 Jun 08:00", "7 Jul 16:00", "17 Jul 00:00", "24 Jul 08:00", "31 Jul 20:00", "8 Aug 04:00", "15 Aug 12:00"];

const levelPrices = [89.06, 88.28, 87.5, 86.72, 85.94, 85.16, 84.38, 83.59, 82.81, 82.03, 81.25, 80.47, 79.69];
const levelNames = ["H4[+2/8]", "H4[+1/8]", "W1[7/8] D1PIVOT H4RES", "H4[7/8]", "H4[6/8]", "H4[5/8]", "D1[3/8] H4PIVOT", "H4[3/8]", "H4[2/8]", "H4[1/8]", "D1[2/8] H4SUP", "H4[-1/8]", "H4[-2/8]"];
const levelColors = ["#C71585", "#FF00FF", "#1E90FF", "#FF8C00", "#FF4500", "#556B2F", "#1E90FF", "#556B2F", "#FF4500", "#FF8C00", "#1E90FF", "#FF00FF", "#C71585"];
const levelSolid = [false, false, true, false, false, false, true, false, false, false, true, false, false];

const symbolName = "BRN,H4";
const lastBid = 84.44;

// ---------- LAYOUT ----------
const W = 3840;
const H = 1996;
const L = 4, T = 4, R = 3767, B = 1961;
const FONT = "'Liberation Sans', Arial, sans-serif";

export default function App() {
  const bars = [...feb, ...mar, ...apr, ...may, ...jun, ...jul, ...aug];
  const x = d3.scaleLinear().domain([0, 940]).range([5, 3765]);
  const y = d3.scaleLinear().domain([69.618, 89.313]).range([B, T]);
  const py = (p: number) => Math.round(y(p));

  const vGrid = d3.range(16, 941, 16).map((i) => Math.round(x(i)) + 0.5).filter((v) => v < R);
  const last = bars[bars.length - 1];

  // axis price-label boxes cover the tick labels underneath: hide the ones that are mostly hidden
  const boxRanges = [...levelPrices, lastBid].map((p) => [py(p) - 6.5, py(p) + 16.5]);
  const visibleTicks = priceTicks.filter((p) => {
    const t0 = py(p) - 6, t1 = py(p) + 10;
    return !boxRanges.some(([b0, b1]) => Math.min(b1, t1) - Math.max(b0, t0) > 3);
  });

  return (
    <svg width={W} height={H} viewBox={`0 0 ${W} ${H}`} style={{ position: "absolute", left: 0, top: 0, display: "block", background: "#fff" }} fontFamily={FONT}>
      <defs>
        <clipPath id="plot"><rect x={L + 1} y={T + 1} width={R - L - 1} height={B - T - 1} /></clipPath>
      </defs>
      <rect x={0} y={0} width={W} height={H} fill="#ffffff" />
      {/* window frame */}
      <rect x={0} y={0} width={W} height={1} fill="#a0a0a0" />
      <rect x={0} y={0} width={1} height={H} fill="#a0a0a0" />
      <rect x={0} y={1991} width={W} height={5} fill="#f0f0f0" />
      <rect x={0} y={1991} width={W} height={1} fill="#d4d4d4" />

      {/* grid */}
      <g stroke="#c0c0c0" strokeWidth={1} strokeDasharray="3 3" shapeRendering="crispEdges">
        {priceTicks.map((p) => (
          <line key={"h" + p} x1={L + 1} x2={R} y1={py(p) + 0.5} y2={py(p) + 0.5} />
        ))}
        {vGrid.map((vx) => (
          <line key={"v" + vx} x1={vx} x2={vx} y1={T + 1} y2={B} />
        ))}
      </g>

      {/* bid line */}
      <line x1={L + 1} x2={R} y1={py(lastBid) + 0.5} y2={py(lastBid) + 0.5} stroke="#b4b4b4" strokeWidth={1} shapeRendering="crispEdges" />

      {/* candles */}
      <g clipPath="url(#plot)" shapeRendering="crispEdges">
        {bars.map((b, i) => {
          const [o, h, l, c] = b;
          const cx = Math.round(x(i));
          const yh = py(h), yl = py(l), yo = py(o), yc = py(c);
          const top = Math.min(yo, yc), bot = Math.max(yo, yc);
          const body = bot - top;
          let bodyEl;
          if (body < 2) {
            bodyEl = <rect x={cx - 1} y={top} width={3} height={1} fill="#000" />;
          } else if (c > o) {
            bodyEl = <rect x={cx - 0.5} y={top + 0.5} width={2} height={body - 1} fill="#fff" stroke="#000" strokeWidth={1} />;
          } else {
            bodyEl = <rect x={cx - 1} y={top} width={3} height={body} fill="#000" />;
          }
          return (
            <g key={i}>
              <rect x={cx} y={yh} width={1} height={Math.max(yl - yh + 1, 1)} fill="#000" />
              {bodyEl}
            </g>
          );
        })}
      </g>

      {/* level lines and labels */}
      <g>
        {levelPrices.map((p, k) => (
          <line key={"l" + k} x1={L + 1} x2={R} y1={py(p) + 0.5} y2={py(p) + 0.5} stroke={levelColors[k]} strokeWidth={1}
            strokeDasharray={levelSolid[k] ? undefined : "13 11"} shapeRendering="crispEdges" />
        ))}
        {levelPrices.map((p, k) => (
          <text key={"t" + k} x={3054} y={py(p) + 19} fontSize={20} fill={levelColors[k]} textAnchor="middle">{levelNames[k]}</text>
        ))}
      </g>

      {/* plot border */}
      <rect x={L + 0.5} y={T + 0.5} width={R - L} height={B - T} fill="none" stroke="#000" strokeWidth={1} shapeRendering="crispEdges" />

      {/* price axis ticks + labels */}
      <g fontSize={18} fill="#000">
        {priceTicks.map((p) => (
          <rect key={"tk" + p} x={R} y={py(p)} width={5} height={1} fill="#000" />
        ))}
        {visibleTicks.map((p) => (
          <text key={"pt" + p} x={3776} y={py(p) + 8}>{p.toFixed(2)}</text>
        ))}
      </g>

      {/* current price box (behind) */}
      <g>
        <rect x={3768} y={py(lastBid) - 6.5} width={58} height={23} fill="#000" />
        <text x={3776} y={py(lastBid) + 12.5} fontSize={18} fill="#fff">{lastBid.toFixed(2)}</text>
      </g>
      {/* level price boxes */}
      <g>
        {levelPrices.map((p, k) => (
          <g key={"b" + k}>
            <rect x={3768} y={py(p) - 6.5} width={58} height={23} fill={levelColors[k]} />
            <text x={3776} y={py(p) + 12.5} fontSize={18} fill="#fff">{p.toFixed(2)}</text>
          </g>
        ))}
      </g>

      {/* time axis */}
      <g fontSize={17} fill="#000">
        {timeLabels.map((t, k) => {
          const tx = Math.round(x(k * 32));
          return (
            <g key={"tl" + k}>
              <rect x={tx} y={B} width={1} height={6} fill="#000" />
              <text x={tx + 1} y={1983}>{t}</text>
            </g>
          );
        })}
      </g>

      {/* header */}
      <polygon points="8,17 20,17 14,23" fill="#000" />
      <text x={32} y={26} fontSize={18.5} fill="#000">{symbolName}</text>
      <text x={110} y={26} fontSize={18.5} fill="#000">{`${last[0].toFixed(2)} ${last[1].toFixed(2)} ${last[2].toFixed(2)} ${last[3].toFixed(2)}`}</text>

      {/* chart shift marker */}
      <polygon points="3153,5 3172,5 3162.5,15" fill="#b0b0b0" />
    </svg>
  );
}
